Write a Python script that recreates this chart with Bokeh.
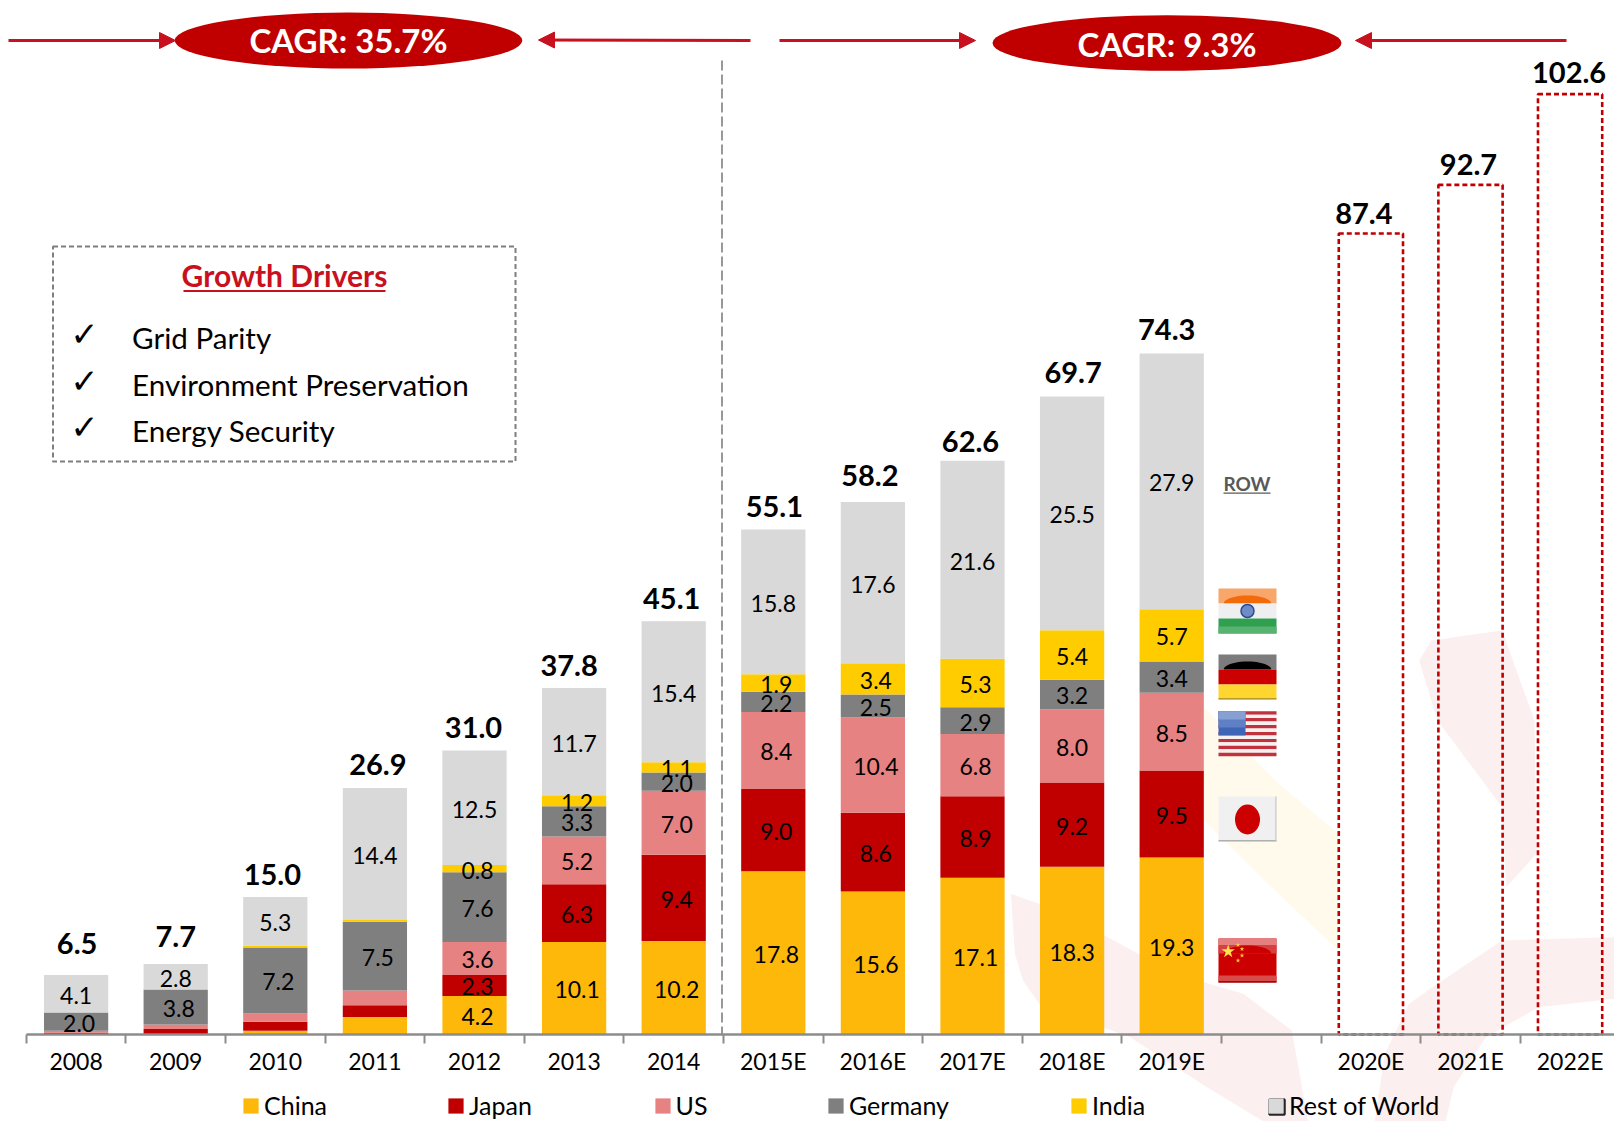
import numpy as np
from bokeh.plotting import figure
from bokeh.models import (ColumnDataSource, Range1d, LinearAxis, FixedTicker, Legend, LegendItem,
                          Arrow, NormalHead)
from bokeh.embed import file_html
from bokeh.resources import INLINE
from bokeh.core.properties import value

# ---------- data ----------
years = ["2008", "2009", "2010", "2011", "2012", "2013", "2014",
         "2015E", "2016E", "2017E", "2018E", "2019E"]
china = [0.0, 0.0, 0.4, 1.9, 4.2, 10.1, 10.2, 17.8, 15.6, 17.1, 18.3, 19.3]
japan = [0.2, 0.6, 1.0, 1.3, 2.3, 6.3, 9.4, 9.0, 8.6, 8.9, 9.2, 9.5]
us = [0.2, 0.5, 0.9, 1.6, 3.6, 5.2, 7.0, 8.4, 10.4, 6.8, 8.0, 8.5]
germany = [2.0, 3.8, 7.2, 7.5, 7.6, 3.3, 2.0, 2.2, 2.5, 2.9, 3.2, 3.4]
india = [0.0, 0.0, 0.2, 0.2, 0.8, 1.2, 1.1, 1.9, 3.4, 5.3, 5.4, 5.7]
row = [4.1, 2.8, 5.3, 14.4, 12.5, 11.7, 15.4, 15.8, 17.6, 21.6, 25.5, 27.9]
totals = [6.5, 7.7, 15.0, 26.9, 31.0, 37.8, 45.1, 55.1, 58.2, 62.6, 69.7, 74.3]
outlook_years = ["2020E", "2021E", "2022E"]
outlook_totals = [87.4, 92.7, 102.6]
series_names = ["China", "Japan", "US", "Germany", "India", "Rest of World"]
cagr_labels = ["CAGR: 35.7%", "CAGR: 9.3%"]
drivers = ["Grid Parity", "Environment Preservation", "Energy Security"]

# ---------- page geometry (reference pixels -> data) ----------
CAT_W, UNIT_H, LEFT_PX, BASE_PX = 99.6, 9.165, 25.8, 1034.0
W, H = 1614, 1121
def X(px): return (px - LEFT_PX) / CAT_W
def Y(py): return (BASE_PX - py) / UNIT_H
FONT = value("Lato")
RED = "#C00000"
COLORS = ["#FDB80A", "#C00000", "#E78282", "#7F7F7F", "#FFCC00", "#D9D9D9"]

p = figure(width=W, height=H, output_backend="svg", toolbar_location=None,
           x_axis_location=None, y_axis_location=None, min_border=0,
           x_range=Range1d(X(0), X(W)), y_range=Range1d(Y(H), Y(0)))
p.grid.visible = False
p.outline_line_color = None
p.background_fill_color = "white"


def poly(pts, color):
    xs = [X(a) for a, _ in pts]
    ys = [Y(b) for _, b in pts]
    p.patch(xs, ys, fill_color=color, line_color=None)


def zoomed(pts):
    return [(980 + a / 2.473, 620 + b / 3) for a, b in pts]


# ---------- faint background marks ----------
PINK, CREAM = "#FCEFEF", "#FFFAEC"
poly(zoomed([(75, 820), (145, 850), (307, 945), (390, 1000), (553, 1085), (650, 1120), (770, 1230),
             (810, 1503), (700, 1503), (560, 1400), (370, 1250), (145, 1150), (105, 1080), (85, 1000)]), PINK)
poly(zoomed([(975, 1503), (1000, 1300), (1060, 1150), (1130, 1090), (1290, 960), (1568, 950), (1600, 950), (1600, 1130),
             (1380, 1160), (1250, 1250), (1170, 1400), (1150, 1503)]), PINK)
poly(zoomed([(1085, 120), (1115, 60), (1290, 30), (1370, 300), (1375, 700), (1300, 800),
             (1290, 560), (1130, 300)]), PINK)
poly(zoomed([(553, 260), (720, 470), (885, 640), (885, 990), (720, 800), (553, 600)]), CREAM)

# ---------- bars ----------
xc = [i + 0.5 for i in range(len(years))]
src = ColumnDataSource(dict(x=xc, China=china, Japan=japan, US=us, Germany=germany, India=india))
src.data["Rest of World"] = row
rends = p.vbar_stack(series_names, x="x", width=0.645, color=COLORS, line_color=None, source=src)

xo = [13.5 + i for i in range(len(outlook_years))]
p.vbar(x=xo, top=outlook_totals, bottom=0, width=0.645, fill_color=None, line_color=RED,
       line_width=2.6, line_dash="5 3")

# ---------- value labels ----------
stack = np.array([china, japan, us, germany, india, row])
bases = np.vstack([np.zeros(len(years)), np.cumsum(stack, axis=0)[:-1]])
lx, ly, lt, ld = [], [], [], []
for s in range(stack.shape[0]):
    for i in range(len(years)):
        v = stack[s, i]
        if v >= 2.0 or (i >= 4 and v > 0):
            lx.append(xc[i])
            ly.append(bases[s, i] + v / 2)
            lt.append(f"{v:.1f}")
            ld.append(0 if s == 5 or i >= 10 else 3)
p.text(lx, ly, text=lt, x_offset=ld, y_offset=1.5, text_font=FONT, text_font_size="23px", text_color="#000000",
       text_align="center", text_baseline="middle")

total_shift = [1, 0, -3, 3, -1, -5, -2, 1, -3, -2, 1, -5, -7, -2, -1]
total_lift = [-8, -4, 1, 0, 0, 1, 1, 0, -2, 4, 0, -1, 3, 3, 2]
tx = xc + xo
tt = totals + outlook_totals
p.text(tx, [v + 1.4 for v in tt], text=[f"{v:.1f}" for v in tt], x_offset=total_shift, y_offset=total_lift,
       text_font=FONT, text_font_size="29px", text_font_style="bold", text_color="#000000",
       text_align="center", text_baseline="bottom")

# ---------- axis ----------
labels = years + outlook_years
centers = xc + xo
axis = LinearAxis(ticker=FixedTicker(ticks=centers, minor_ticks=list(range(0, 17))),
                  fixed_location=0, bounds=(0, 16))
axis.major_label_overrides = {c: t for c, t in zip(centers, labels)}
axis.major_tick_line_color = None
axis.major_tick_in = 0
axis.major_tick_out = 0
axis.minor_tick_in = 0
axis.minor_tick_out = 9
axis.minor_tick_line_color = "#8C8C8C"
axis.minor_tick_line_width = 2
axis.axis_line_color = "#8C8C8C"
axis.axis_line_width = 2.5
axis.major_label_standoff = 3
axis.major_label_text_font = "Lato"
axis.major_label_text_font_size = "23px"
axis.major_label_text_color = "#000000"
p.add_layout(axis, "below")

# ---------- divider ----------
p.line([X(721.5), X(721.5)], [Y(60), 0], line_color="#7F7F7F", line_width=1.6, line_dash="10 4")

# ---------- CAGR banners ----------
p.ellipse([X(348), X(1166.5)], [Y(40), Y(42.5)], width=[347.5 / CAT_W, 349 / CAT_W],
          height=[56 / UNIT_H, 55.5 / UNIT_H], fill_color=RED, line_color=None)
p.text([X(348), X(1166.5)], [Y(39.5), Y(43)], text=cagr_labels, text_font=FONT, text_font_size="33px",
       text_font_style="bold", text_color="white", text_align="center", text_baseline="middle")
AR = "#C8101E"
for a, b, c, d in [(8, 40, 175, 40), (750, 40, 538, 39.5), (779, 40, 975, 40), (1566, 40, 1355, 40)]:
    p.add_layout(Arrow(end=NormalHead(size=16, fill_color=AR, line_color=AR), x_start=X(a), y_start=Y(b),
                       x_end=X(c), y_end=Y(d), line_color=AR, line_width=2.8))

# ---------- growth drivers box ----------
p.quad(left=X(52.5), right=X(515), top=Y(246), bottom=Y(461), fill_color=None, line_color="#7F7F7F",
       line_width=2, line_dash="5 3")
p.text([X(284)], [Y(274)], text=["Growth Drivers"], text_font=FONT, text_font_size="30px",
       text_font_style="bold", text_color="#C8101E", text_align="center", text_baseline="middle")
p.line([X(183), X(385)], [Y(290.5), Y(290.5)], line_color="#C8101E", line_width=2)
rows_y = [339, 386, 432]
p.text([X(84)] * 3, [Y(v - 6) for v in rows_y], text=["\u2713"] * 3, text_font=value("DejaVu Sans"),
       text_font_size="34px", text_color="#000000", text_align="center", text_baseline="middle")
p.text([X(131.5)] * 3, [Y(v - 2) for v in rows_y], text=drivers, text_font=FONT, text_font_size="29.6px",
       text_color="#000000", text_align="left", text_baseline="middle")

# ---------- ROW tag ----------
p.text([X(1246.5)], [Y(482.5)], text=["ROW"], text_font=FONT, text_font_size="19px", text_font_style="bold",
       text_color="#595959", text_align="center", text_baseline="middle")
p.line([X(1223), X(1270)], [Y(492.6), Y(492.6)], line_color="#595959", line_width=1.3)


# ---------- flags ----------
def box(a, b, c, d, color):
    p.quad(left=X(a), right=X(c), top=Y(b), bottom=Y(d), fill_color=color, line_color=None)


def dome(a, c, top, bottom, color):
    t = np.linspace(0, np.pi, 30)
    mid, half = (a + c) / 2, (c - a) / 2 * 0.82
    pts = [(mid - half * np.cos(v), bottom - (bottom - top) * np.sin(v)) for v in t]
    poly(pts, color)


FL, FR = 1218, 1276
# India
box(FL, 588, FR, 603, "#F9A66A"); dome(FL, FR, 595, 603, "#F26A0A")
box(FL, 603, FR, 618, "#EFEFEF"); box(FL, 618, FR, 633, "#2FA050"); box(FL, 626, FR, 633, "#58B270")
p.ellipse([X(1247)], [Y(610.5)], width=13 / CAT_W, height=13 / UNIT_H, fill_color="#6F8CC8", line_color="#2A4B96", line_width=1.5)
# Germany
box(FL, 654, FR, 669, "#7C7C7C"); dome(FL, FR, 661, 669, "#000000")
box(FL, 669, FR, 684, "#CC0000"); box(FL, 684, FR, 699, "#FFD630"); box(FL, 697.5, FR, 699, "#B89A20")
# United States
for k in range(13):
    h = (755.7 - 710.7) / 13
    box(FL, 710.7 + k * h, FR, 710.7 + (k + 1) * h, "#C0323C" if k % 2 == 0 else "#F6F0F0")
box(FL, 710.7, 1245, 735, "#3F66B6")
box(FL, 710.7, 1245, 727, "#5F80C4")
box(FL, 710.7, 1245, 719, "#86A0D4")
# Japan
box(FL, 796, FR, 841, "#F0F0F0"); box(FL, 839.5, FR, 841, "#B0B0B0"); box(1274.8, 796, FR, 841, "#C8C8C8")
p.ellipse([X(1247)], [Y(819)], width=25 / CAT_W, height=30 / UNIT_H, fill_color="#CC0000", line_color=None)
# China
box(FL, 938, FR, 982, "#CC0000"); box(FL, 938, FR, 945, "#E58080"); box(FL, 945, FR, 953, "#D84040")
dome(FL, FR, 945, 953, "#CC0000"); box(FL, 975, FR, 981, "#D84B4B"); box(FL, 980.7, FR, 982, "#8E0000")
p.scatter([X(1227.7)], [Y(951)], marker="star", size=14, fill_color="#FFE24A", line_color=None)
p.scatter([X(1237.5), X(1241.5), X(1241.5), X(1237.5)], [Y(944.5), Y(948.5), Y(955), Y(960)], marker="star",
          size=5, fill_color="#FFC93C", line_color=None)

# ---------- legend ----------
key_x = [243, 448, 654.5, 828, 1071, 1268]
for name, r, kx in zip(series_names, rends, key_x):
    leg = Legend(items=[LegendItem(label=name, renderers=[r])], location=(kx - 2, 1), orientation="horizontal",
                 glyph_width=19, glyph_height=19, label_standoff=4, padding=0, margin=0, spacing=0,
                 border_line_color=None, background_fill_alpha=0, label_height=19,
                 label_text_font="Lato", label_text_font_size="25px", label_text_color="#000000")
    p.add_layout(leg)
p.quad(left=X(1269), right=X(1284), top=Y(1099), bottom=Y(1114), fill_color=COLORS[5], line_color="#262626",
       line_width=2.5, level="overlay")

open("out.html", "w").write(file_html(p, INLINE))
